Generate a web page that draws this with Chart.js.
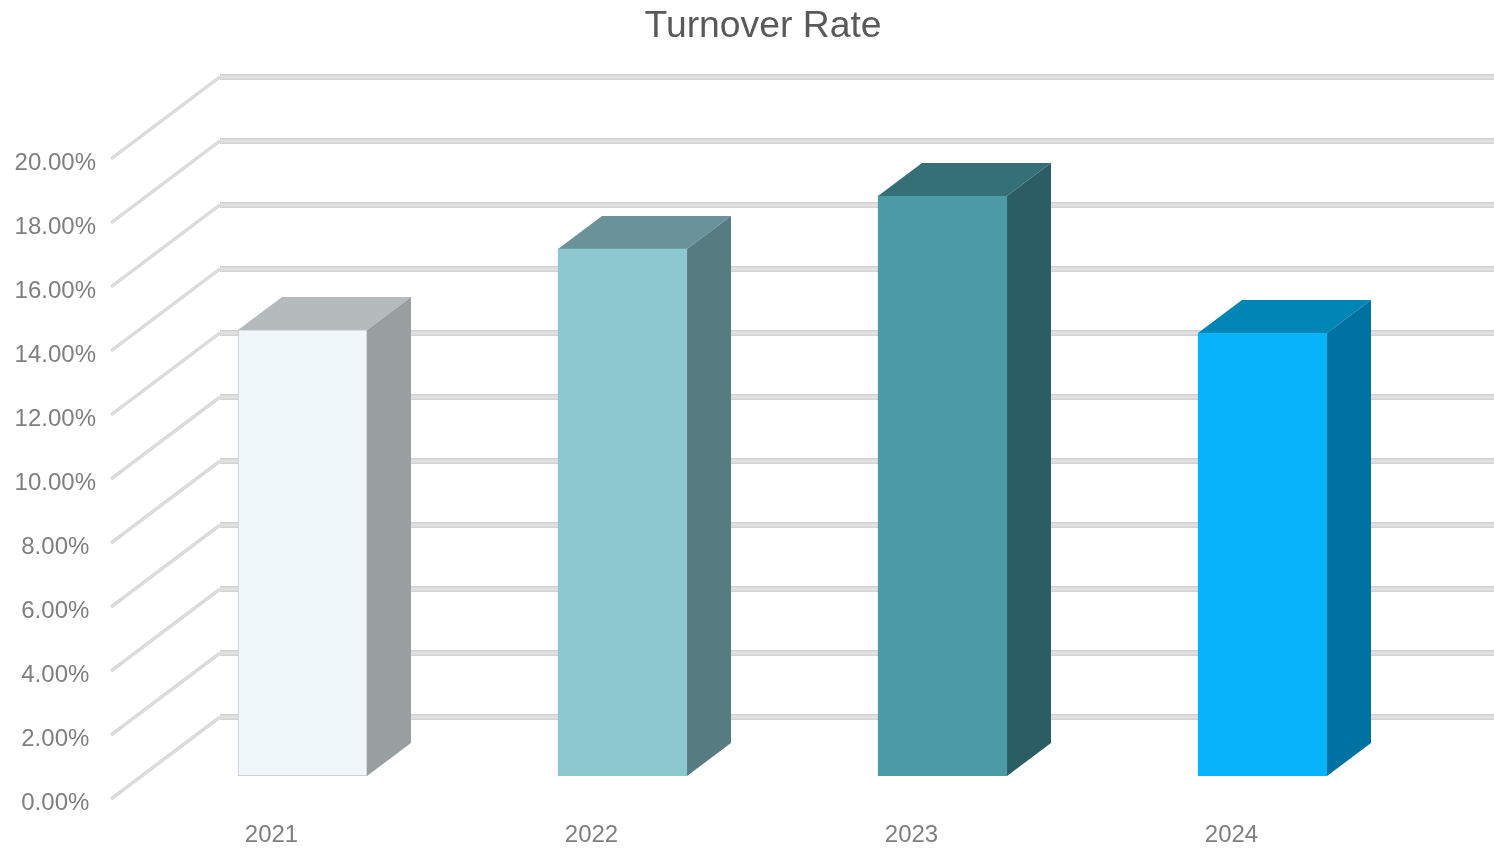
<!DOCTYPE html>
<html>
<head>
<meta charset="utf-8">
<title>Turnover Rate</title>
<script src="https://cdn.jsdelivr.net/npm/chart.js@4"></script>
<style>
    html, body { margin: 0; padding: 0; background: #fff; overflow: hidden; }
    /* the reference is a soft upscaled picture */
    canvas { display: block; filter: blur(0.5px); }
</style>
</head>
<body>
<canvas id="turnoverChart" width="1494" height="848"></canvas>
<script>
const years = ['2021', '2022', '2023', '2024'];
const turnoverRates = [13.94, 16.47, 18.12, 13.84];
const yTickValues = [0, 2, 4, 6, 8, 10, 12, 14, 16, 18, 20];

const frontColors = ['#eff7fa', '#8dc7d0', '#4a9ba5', '#07b4f9'];
const edgeColors = ['#bfc5c8', '#8dc7d0', '#4a9ba5', '#07b4f9'];
const topColors = ['#b5babc', '#6a9399', '#357079', '#0085b5'];
const sideColors = ['#999f9e', '#567b81', '#2b5d64', '#0072a1'];

// Fake 3D: the y scale sits on the plane of the bar fronts, the rest is offset from it
const BAR_DEPTH_X = 44;
const BAR_DEPTH_Y = 33;
const WALL_X = 220;
const WALL_OFFSET_Y = 59;
const FLOOR_X = 111;
const FLOOR_OFFSET_Y = 23;

function fillFace(ctx, color, points) {
    ctx.fillStyle = color;
    ctx.beginPath();
    points.forEach(([x, y], i) => (i ? ctx.lineTo(x, y) : ctx.moveTo(x, y)));
    ctx.closePath();
    ctx.fill();
}

const box3d = {
    id: 'box3d',
    // labels are clipped to the axis box, so open it up to the canvas edge
    afterLayout(chart) {
        chart.scales.y.left = 0;
    },
    beforeDatasetsDraw(chart) {
        const ctx = chart.ctx;
        const yScale = chart.scales.y;
        ctx.save();

        // Back wall lines and the diagonals running to the front labels
        yScale.ticks.forEach(tick => {
            const y = yScale.getPixelForValue(tick.value);
            ctx.beginPath();
            ctx.moveTo(FLOOR_X, y + FLOOR_OFFSET_Y);
            ctx.lineTo(WALL_X, y - WALL_OFFSET_Y);
            ctx.lineWidth = 3.5;
            ctx.strokeStyle = '#dcdcdc';
            ctx.stroke();

            ctx.beginPath();
            ctx.moveTo(WALL_X, y - WALL_OFFSET_Y);
            ctx.lineTo(chart.width, y - WALL_OFFSET_Y);
            ctx.lineWidth = 6;
            ctx.strokeStyle = '#d2d2d2';
            ctx.stroke();
            ctx.lineWidth = 3;
            ctx.strokeStyle = '#e2e2e2';
            ctx.stroke();
        });

        // Top and side faces, the front face is the bar itself
        chart.getDatasetMeta(0).data.forEach((bar, i) => {
            const left = bar.x - bar.width / 2;
            const right = bar.x + bar.width / 2;
            fillFace(ctx, topColors[i], [
                [left, bar.y],
                [left + BAR_DEPTH_X, bar.y - BAR_DEPTH_Y],
                [right + BAR_DEPTH_X, bar.y - BAR_DEPTH_Y],
                [right, bar.y]
            ]);
            fillFace(ctx, sideColors[i], [
                [right, bar.y],
                [right + BAR_DEPTH_X, bar.y - BAR_DEPTH_Y],
                [right + BAR_DEPTH_X, bar.base - BAR_DEPTH_Y],
                [right, bar.base]
            ]);
        });
        ctx.restore();
    }
};

new Chart(document.getElementById('turnoverChart'), {
    type: 'bar',
    data: {
        labels: years,
        datasets: [{
            label: 'Turnover Rate',
            data: turnoverRates,
            backgroundColor: frontColors,
            borderColor: edgeColors,
            borderWidth: 1,
            borderSkipped: false,
            barThickness: 129
        }]
    },
    options: {
        responsive: false,
        animation: false,
        layout: {
            autoPadding: false,
            padding: { left: 103.5, right: 71.5, top: 0, bottom: 0 }
        },
        plugins: {
            legend: { display: false },
            tooltip: { enabled: false },
            title: {
                display: true,
                text: 'Turnover Rate',
                color: '#595959',
                font: { family: '"Liberation Sans", Arial, sans-serif', size: 37.3, weight: 'normal' },
                padding: { top: 4.5, bottom: 86.7 }
            }
        },
        scales: {
            x: {
                grid: { display: false },
                border: { display: false },
                afterFit(axis) { axis.height = 72; },
                ticks: {
                    color: '#7f7f7f',
                    font: { family: '"Liberation Sans", Arial, sans-serif', size: 24 },
                    labelOffset: -31,
                    padding: 37,
                    maxRotation: 0
                }
            },
            y: {
                min: 0,
                max: 20,
                grid: { display: false },
                border: { display: false },
                afterBuildTicks(axis) { axis.ticks = yTickValues.map(value => ({ value })); },
                afterFit(axis) { axis.width = 39; },
                ticks: {
                    color: '#7f7f7f',
                    font: { family: '"Liberation Sans", Arial, sans-serif', size: 24 },
                    crossAlign: 'center',
                    padding: 38.5,
                    labelOffset: 27.5,
                    callback: value => value.toFixed(2) + '%'
                }
            }
        }
    },
    plugins: [box3d]
});
</script>
</body>
</html>
